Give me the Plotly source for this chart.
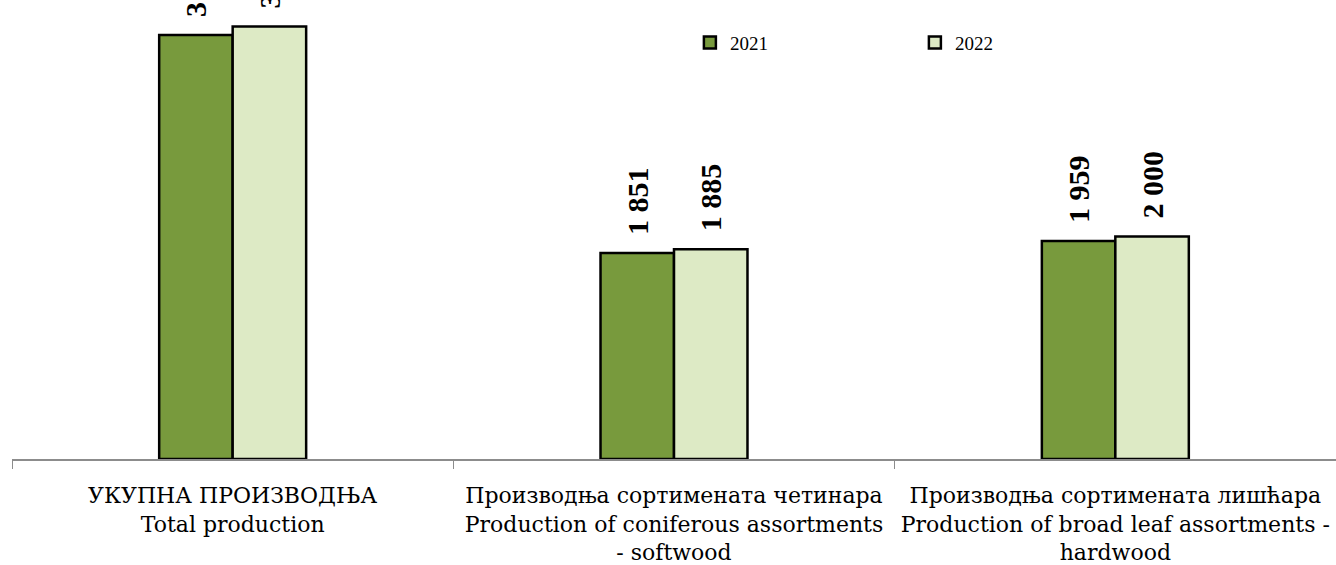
import plotly.graph_objects as go

categories = [
    "УКУПНА ПРОИЗВОДЊА<br>Total production",
    "Производња сортимената четинара<br>Production of coniferous assortments<br>- softwood",
    "Производња сортимената лишћара<br>Production of broad leaf assortments -<br>hardwood",
]
series_names = ["2021", "2022"]
values_2021 = [3810, 1851, 1959]
values_2022 = [3885, 1885, 2000]

colors = ["#789A3D", "#DDEAC5"]


def fmt(v):
    return "\u00a0\u00a0" + f"{v:,}".replace(",", " ")


fig = go.Figure()
for name, vals, col in zip(series_names, [values_2021, values_2022], colors):
    fig.add_trace(go.Bar(
        name=name,
        x=categories,
        y=vals,
        marker=dict(color=col, line=dict(color="#000000", width=2.5)),
        text=[fmt(v) for v in vals],
        textposition="outside",
        textangle=-90,
        constraintext="none",
        cliponaxis=False,
        textfont=dict(family="Liberation Serif", size=30, color="#000000", weight="bold"),
    ))

fig.update_layout(
    width=1336,
    height=565,
    margin=dict(l=12, r=0, t=0, b=106),
    paper_bgcolor="white",
    plot_bgcolor="white",
    barmode="group",
    bargap=0.667,
    bargroupgap=0,
    showlegend=True,
    legend=dict(
        orientation="h",
        x=0.512,
        y=0.907,
        xanchor="left",
        yanchor="middle",
        entrywidth=180,
        font=dict(family="Liberation Serif", size=19, color="#000000"),
        bgcolor="rgba(0,0,0,0)",
    ),
    xaxis=dict(
        automargin=False,
        showline=True,
        linecolor="#8C8C8C",
        linewidth=1.5,
        ticks="outside",
        tickson="boundaries",
        ticklen=8,
        tickcolor="#8C8C8C",
        ticklabelstandoff=16,
        tickfont=dict(family="DejaVu Serif", size=22, color="#000000"),
        showgrid=False,
    ),
    yaxis=dict(
        automargin=False,
        range=[0, 4124],
        visible=False,
        showgrid=False,
    ),
)

fig.write_html(
    "out.html",
    config={"displayModeBar": False},
    post_script="document.body.style.margin='0';document.body.style.padding='0';",
)
